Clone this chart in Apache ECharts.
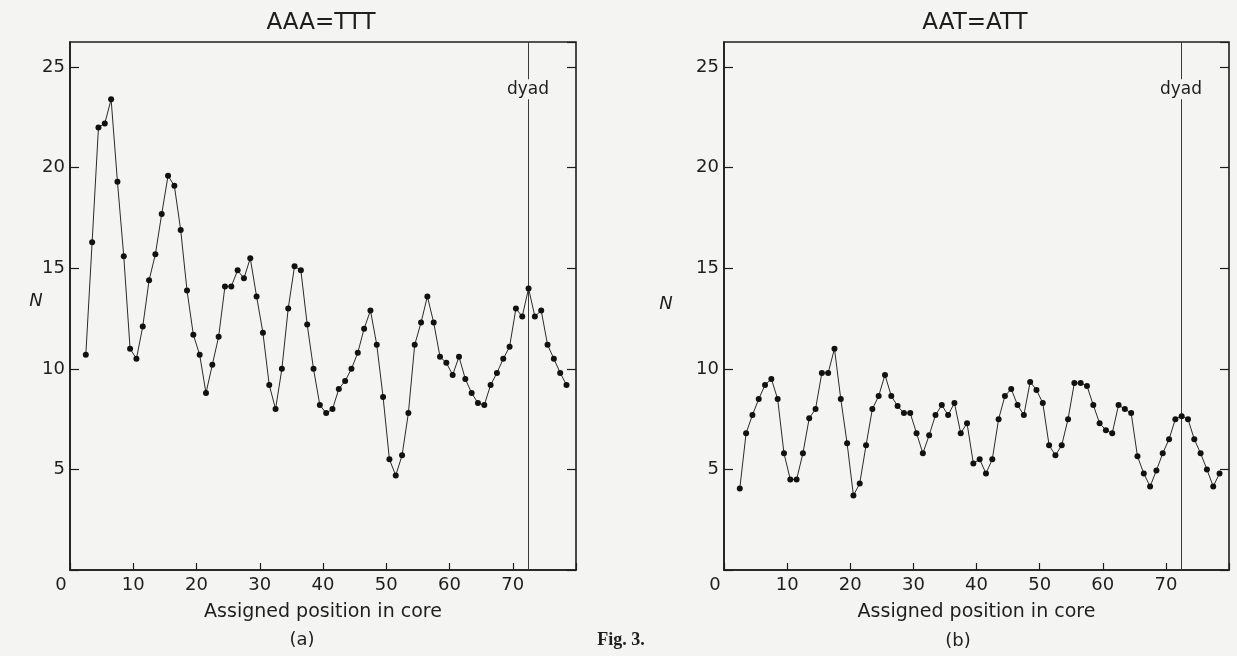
<!DOCTYPE html>
<html>
<head>
<meta charset="utf-8">
<script src="https://cdn.jsdelivr.net/npm/echarts@6/dist/echarts.min.js"></script>
<style>
  html, body { margin: 0; padding: 0; background: #f4f4f2; }
  #chart { width: 1237px; height: 656px; }
</style>
</head>
<body>
<div id="chart"></div>
<script>
const BG = '#f4f4f2';
const INK = '#1e1e1e';
const FONT = '"DejaVu Sans", sans-serif';

// assigned positions in core (same for both panels)
const positions = [
  2.5, 3.5, 4.5, 5.5, 6.5, 7.5, 8.5, 9.5, 10.5, 11.5,
  12.5, 13.5, 14.5, 15.5, 16.5, 17.5, 18.5, 19.5, 20.5, 21.5,
  22.5, 23.5, 24.5, 25.5, 26.5, 27.5, 28.5, 29.5, 30.5, 31.5,
  32.5, 33.5, 34.5, 35.5, 36.5, 37.5, 38.5, 39.5, 40.5, 41.5,
  42.5, 43.5, 44.5, 45.5, 46.5, 47.5, 48.5, 49.5, 50.5, 51.5,
  52.5, 53.5, 54.5, 55.5, 56.5, 57.5, 58.5, 59.5, 60.5, 61.5,
  62.5, 63.5, 64.5, 65.5, 66.5, 67.5, 68.5, 69.5, 70.5, 71.5,
  72.5, 73.5, 74.5, 75.5, 76.5, 77.5, 78.5
];

// (a) AAA=TTT
const nAAA = [
  10.7, 16.3, 22.0, 22.2, 23.4, 19.3, 15.6, 11.0, 10.5, 12.1,
  14.4, 15.7, 17.7, 19.6, 19.1, 16.9, 13.9, 11.7, 10.7, 8.8,
  10.2, 11.6, 14.1, 14.1, 14.9, 14.5, 15.5, 13.6, 11.8, 9.2,
  8.0, 10.0, 13.0, 15.1, 14.9, 12.2, 10.0, 8.2, 7.8, 8.0,
  9.0, 9.4, 10.0, 10.8, 12.0, 12.9, 11.2, 8.6, 5.5, 4.7,
  5.7, 7.8, 11.2, 12.3, 13.6, 12.3, 10.6, 10.3, 9.7, 10.6,
  9.5, 8.8, 8.3, 8.2, 9.2, 9.8, 10.5, 11.1, 13.0, 12.6,
  14.0, 12.6, 12.9, 11.2, 10.5, 9.8, 9.2
];

// (b) AAT=ATT
const nAAT = [
  4.05, 6.8, 7.7, 8.5, 9.2, 9.5, 8.5, 5.8, 4.5, 4.5,
  5.8, 7.55, 8.0, 9.8, 9.8, 11.0, 8.5, 6.3, 3.7, 4.3,
  6.2, 8.0, 8.65, 9.7, 8.65, 8.15, 7.8, 7.8, 6.8, 5.8,
  6.7, 7.7, 8.2, 7.7, 8.3, 6.8, 7.3, 5.3, 5.5, 4.8,
  5.5, 7.5, 8.65, 9.0, 8.2, 7.7, 9.35, 8.95, 8.3, 6.2,
  5.7, 6.2, 7.5, 9.3, 9.3, 9.15, 8.2, 7.3, 6.95, 6.8,
  8.2, 8.0, 7.8, 5.65, 4.8, 4.15, 4.95, 5.8, 6.5, 7.5,
  7.65, 7.5, 6.5, 5.8, 5.0, 4.15, 4.8
];

const DYAD = 72.4;
const DYAD_LABEL_Y = 23.9;
const panelTitles = ['AAA=TTT', 'AAT=ATT'];
const panelTags = ['(a)', '(b)'];
const xTitle = 'Assigned position in core';
const yTitle = 'N';

const X_MIN = 0, X_MAX = 80, X_STEP = 10;
const Y_MIN = 0, Y_MAX = 26.25, Y_STEP = 5;

const grids = [
  { left: 70, top: 42, width: 506, height: 528 },
  { left: 724, top: 42, width: 505, height: 528 }
];

const txt = (size, extra) => Object.assign({ color: INK, fontFamily: FONT, fontSize: size }, extra || {});

const xAxes = grids.map((g, i) => ({
  type: 'value', gridIndex: i, min: X_MIN, max: X_MAX, interval: X_STEP,
  name: xTitle, nameLocation: 'middle', nameGap: 33,
  nameTextStyle: txt(19),
  axisLine: { show: true, onZero: false, lineStyle: { color: INK, width: 1.6 } },
  axisTick: { inside: true, length: 7, lineStyle: { color: INK, width: 1.2 } },
  splitLine: { show: false },
  axisLabel: Object.assign(txt(18), {
    margin: 6,
    formatter: v => v === X_MAX ? '' : (v === 0 ? '{z|0}' : String(v)),
    rich: { z: { fontFamily: FONT, fontSize: 18, color: INK, padding: [0, 18, 0, 0] } }
  })
}));

const yLeft = grids.map((g, i) => ({
  type: 'value', gridIndex: i, position: 'left', min: Y_MIN, max: Y_MAX, interval: Y_STEP,
  axisLine: { show: true, onZero: false, lineStyle: { color: INK, width: 1.6 } },
  axisTick: { inside: true, length: 9, lineStyle: { color: INK, width: 1.2 } },
  splitLine: { show: false },
  axisLabel: Object.assign(txt(18), {
    margin: 5,
    showMaxLabel: false,
    formatter: v => (v === 0 || v === Y_MAX) ? '' : String(v)
  })
}));

const yRight = grids.map((g, i) => ({
  type: 'value', gridIndex: i, position: 'right', min: Y_MIN, max: Y_MAX, interval: Y_STEP,
  axisLine: { show: false, onZero: false },
  axisTick: { show: true, inside: true, length: 9, lineStyle: { color: INK, width: 1.2 } },
  axisLabel: { show: false },
  splitLine: { show: false }
}));

const panelSeries = [nAAA, nAAT].map((vals, i) => ({
  type: 'line',
  xAxisIndex: i,
  yAxisIndex: i,
  data: positions.map((p, k) => [p, vals[k]]),
  symbol: 'circle',
  symbolSize: 6,
  showSymbol: true,
  lineStyle: { color: '#2a2a2a', width: 1 },
  itemStyle: { color: '#111' },
  markLine: {
    silent: true, symbol: 'none', z: 1,
    lineStyle: { color: '#3a3a3a', width: 1, type: 'solid' },
    label: { show: false },
    data: [{ xAxis: DYAD }]
  },
  markPoint: {
    silent: true, z: 5,
    symbol: 'rect', symbolSize: [48, 20],
    itemStyle: { color: BG },
    label: { show: true, formatter: 'dyad', color: INK, fontFamily: FONT, fontSize: 17 },
    data: [{ coord: [DYAD, DYAD_LABEL_Y] }]
  }
}));

const textEl = (x, y, text, font) => ({
  type: 'text', x, y,
  style: { text, font, fill: INK, align: 'center', verticalAlign: 'middle', textAlign: 'center', textVerticalAlign: 'middle' }
});

const chart = echarts.init(document.getElementById('chart'));
chart.setOption({
  animation: false,
  backgroundColor: BG,
  grid: grids.map(g => Object.assign({ show: true, borderColor: INK, borderWidth: 1.6, backgroundColor: 'transparent' }, g)),
  xAxis: xAxes,
  yAxis: yLeft.concat(yRight),
  series: panelSeries,
  graphic: [
    textEl(321, 23, panelTitles[0], '23px "DejaVu Sans"'),
    textEl(975, 23, panelTitles[1], '23px "DejaVu Sans"'),
    textEl(36, 301, yTitle, 'italic 18px "DejaVu Sans"'),
    textEl(666, 304, yTitle, 'italic 18px "DejaVu Sans"'),
    textEl(302, 640, panelTags[0], '18px "DejaVu Sans"'),
    textEl(958, 641, panelTags[1], '18px "DejaVu Sans"'),
    textEl(621, 640, 'Fig. 3.', 'bold 18px "Liberation Serif"')
  ]
});
</script>
</body>
</html>
